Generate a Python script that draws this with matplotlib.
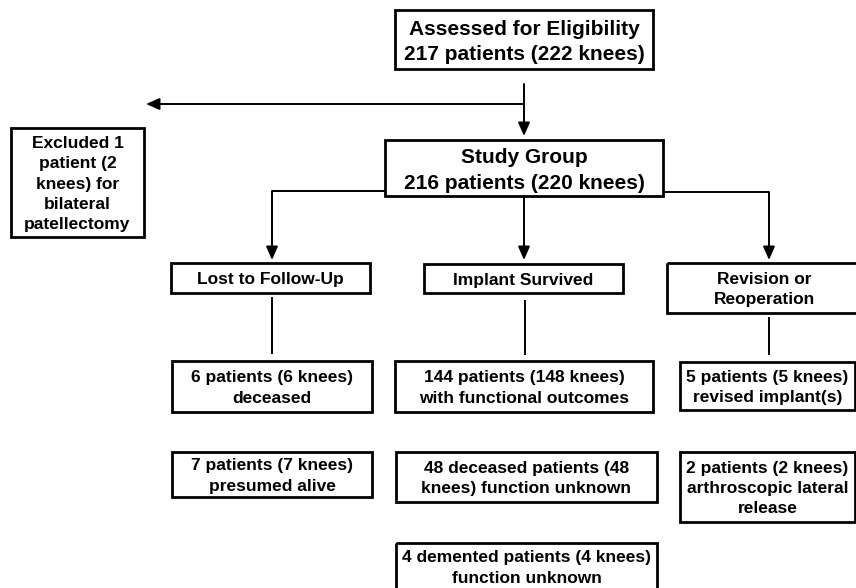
import matplotlib
matplotlib.use("Agg")
import matplotlib.pyplot as plt
from matplotlib.patches import Rectangle

# ---- content (text of each box) ----
top_labels = ["Assessed for Eligibility\n217 patients (222 knees)",
              "Study Group\n216 patients (220 knees)"]
excluded_label = ["Excluded 1\npatient (2\nknees) for\nbilateral\npatellectomy"]
category_labels = ["Lost to Follow-Up", "Implant Survived", "Revision or\nReoperation"]
lost_labels = ["6 patients (6 knees)\ndeceased", "7 patients (7 knees)\npresumed alive"]
survived_labels = ["144 patients (148 knees)\nwith functional outcomes",
                   "48 deceased patients (48\nknees) function unknown",
                   "4 demented patients (4 knees)\nfunction unknown"]
revision_labels = ["5 patients (5 knees)\nrevised implant(s)",
                   "2 patients (2 knees)\narthroscopic lateral\nrelease"]

W, H = 856, 588
fig = plt.figure(figsize=(W / 100, H / 100), dpi=100)
ax = fig.add_axes([0, 0, 1, 1])
ax.set_xlim(0, W)
ax.set_ylim(H, 0)
ax.axis("off")

FONT = "Liberation Sans"
BOX_LW = 2.0
LINE_LW = 1.4
BIG = 15.0
SMALL = 12.5


def box(x0, y0, x1, y1, text, size, ls=1.42, cy=None, dy=1.5):
    ax.add_patch(Rectangle((x0, y0), x1 - x0, y1 - y0, fill=False,
                           edgecolor="black", linewidth=BOX_LW, clip_on=False))
    yc = (y0 + y1) / 2 + dy if cy is None else cy
    ax.text((x0 + x1) / 2, yc, text, ha="center", va="center",
            fontsize=size, fontweight="bold", family=FONT, linespacing=ls)


def line(xs, ys):
    ax.plot(xs, ys, color="black", lw=LINE_LW, solid_capstyle="butt")


def arrow(x0, y0, x1, y1):
    ax.annotate("", xy=(x1, y1), xytext=(x0, y0),
                arrowprops=dict(arrowstyle="-|>,head_length=0.8,head_width=0.35",
                                color="black", lw=LINE_LW, shrinkA=0, shrinkB=0))


# top boxes
box(395, 10, 653, 69, top_labels[0], BIG, ls=1.42, dy=2.5)
box(385, 140, 663, 196, top_labels[1], BIG, ls=1.42, dy=2.5)
box(11, 128, 144, 237, excluded_label[0], SMALL)

# top connectors
arrow(524, 84, 524, 136)
arrow(524, 104, 146, 104)

# category boxes
box(171, 263, 370, 293, category_labels[0], SMALL)
box(424, 264, 623, 293, category_labels[1], SMALL)
box(667, 263, 862, 313, category_labels[2], SMALL)

# study group -> categories
line([385, 272], [191, 191])
arrow(272, 191, 272, 260)
arrow(524, 196, 524, 260)
line([663, 769], [192, 192])
arrow(769, 192, 769, 260)

# vertical stems
line([272, 272], [297, 354])
line([525, 525], [300, 355])
line([769, 769], [317, 355])

# outcome boxes
box(172, 361, 372, 412, lost_labels[0], SMALL)
box(172, 452, 372, 497, lost_labels[1], SMALL)

box(395, 361, 653, 412, survived_labels[0], SMALL)
box(396, 452, 657, 502, survived_labels[1], SMALL)
box(396, 543, 657, 592, survived_labels[2], SMALL, cy=568)

box(680, 362, 855, 410, revision_labels[0], SMALL)
box(680, 452, 855, 522, revision_labels[1], SMALL)

fig.savefig("out.png", dpi=100, facecolor="white")
